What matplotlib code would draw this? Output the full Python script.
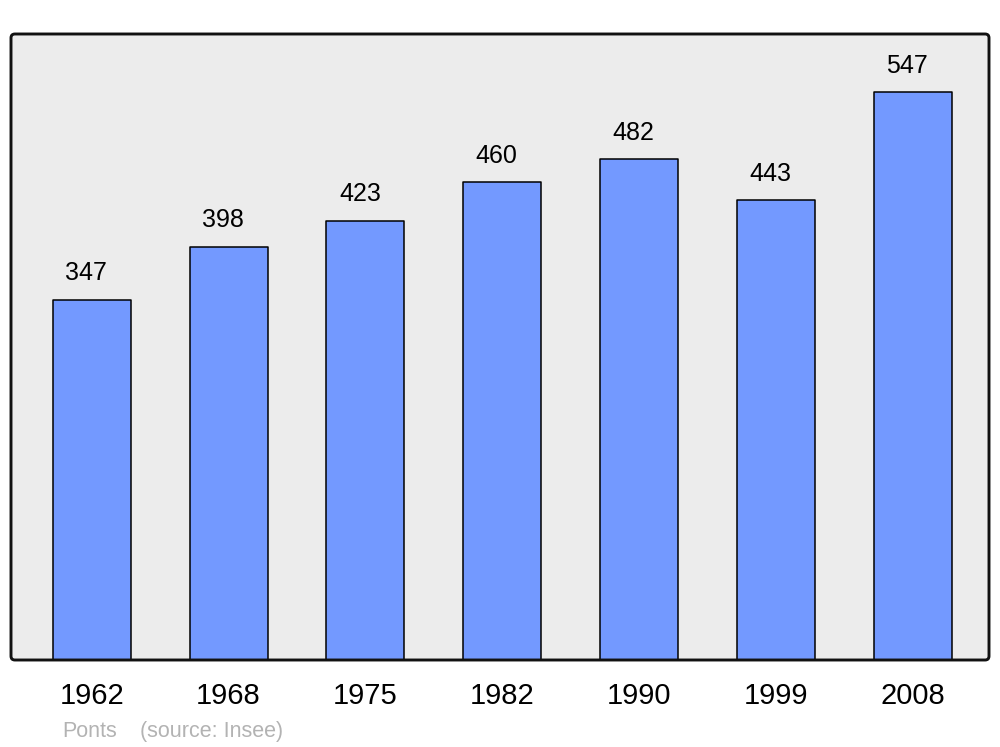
import matplotlib
matplotlib.use("Agg")
import matplotlib.pyplot as plt
from matplotlib.patches import FancyBboxPatch

plt.rcParams['font.family'] = ['Liberation Sans', 'DejaVu Sans']

years = ["1962", "1968", "1975", "1982", "1990", "1999", "2008"]
population = [347, 398, 423, 460, 482, 443, 547]
commune = "Ponts"
source = "(source: Insee)"

fig = plt.figure(figsize=(10, 7.47), dpi=100)
ax = fig.add_axes([0.011, (747 - 660) / 747, 0.978, (660 - 34) / 747])
ax.set_facecolor('#ececec')

x = list(range(len(years)))
bars = ax.bar(x, population, width=0.57, color='#7399ff', edgecolor='black',
              linewidth=1.1, zorder=2)
for b in bars:
    b.set_joinstyle('round')

for xi, v in zip(x, population):
    ax.annotate(str(v), (xi, v), xytext=(-4, 14), textcoords='offset points',
                ha='center', va='baseline', fontsize=18, color='black')

ax.set_xlim(-0.59, 6.557)
ax.set_ylim(0, 602.8)
ax.set_xticks(x)
ax.set_xticklabels(years, fontsize=21)
ax.tick_params(axis='x', length=0, pad=16)
ax.set_yticks([])
for s in ax.spines.values():
    s.set_visible(False)

frame = FancyBboxPatch((0, 0), 1, 1, boxstyle="round,pad=0,rounding_size=0.004",
                       mutation_aspect=978 / 626, transform=ax.transAxes,
                       facecolor='none', edgecolor='#111111', linewidth=2.1,
                       clip_on=False, zorder=5)
ax.add_patch(frame)

fig.text(62 / 1000, 10 / 747, commune, fontsize=15.5, color='#b3b3b3',
         ha='left', va='baseline')
fig.text(140 / 1000, 10 / 747, source, fontsize=15.5, color='#b3b3b3',
         ha='left', va='baseline')

fig.savefig('out.png', dpi=100)
